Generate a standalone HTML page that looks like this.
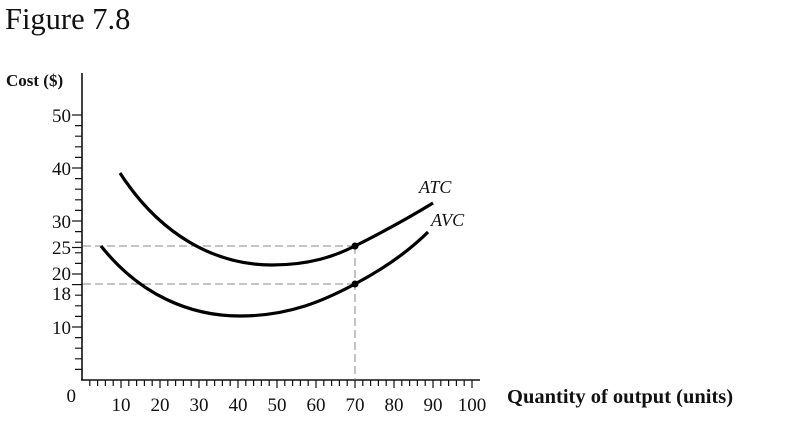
<!DOCTYPE html>
<html><head><meta charset="utf-8"><style>
html,body{margin:0;padding:0;background:#fff;}
</style></head><body>
<svg width="800" height="426" viewBox="0 0 800 426" xmlns="http://www.w3.org/2000/svg" font-family="Liberation Serif, serif">
<text x="5" y="29" font-size="30.5" fill="#111">Figure 7.8</text>
<text x="6" y="86" font-size="17" font-weight="bold" fill="#111">Cost ($)</text>
<g stroke="#111" stroke-width="1.6" fill="none">
<line x1="82" y1="73" x2="82" y2="380"/>
<line x1="81" y1="380" x2="480" y2="380"/>
</g>
<g font-size="19" fill="#111" text-anchor="end">
<text x="71" y="122">50</text><text x="71" y="175">40</text><text x="71" y="228">30</text>
<text x="71" y="254">25</text><text x="71" y="280">20</text><text x="71" y="300">18</text>
<text x="71" y="334">10</text><text x="76" y="402">0</text>
</g>
<g font-size="19" fill="#111" text-anchor="middle">
<text x="121" y="411">10</text><text x="160" y="411">20</text><text x="199" y="411">30</text>
<text x="238" y="411">40</text><text x="277" y="411">50</text><text x="316" y="411">60</text>
<text x="355" y="411">70</text><text x="394" y="411">80</text><text x="433" y="411">90</text>
<text x="472" y="411">100</text>
</g>
<text x="507" y="403" font-size="20.5" font-weight="bold" fill="#111">Quantity of output (units)</text>
<g stroke="#888" stroke-width="1" stroke-dasharray="8,4" fill="none">
<line x1="83" y1="246" x2="355" y2="246"/>
<line x1="83" y1="284" x2="355" y2="284"/>
<line x1="355" y1="246" x2="355" y2="380"/>
</g>
<g stroke="#000" stroke-width="3.2" fill="none">
<path d="M120,173 C160,235 215,265 272,265 C310,265 335,256 355,246 C385,231 410,217 433,203"/>
<path d="M101,246 C140,295 190,316 240,316 C290,316 325,300 355,284 C385,268 410,250 428,232"/>
</g>
<circle cx="355" cy="246" r="3.5" fill="#000"/>
<circle cx="355" cy="284" r="3.5" fill="#000"/>
<g font-size="18" font-style="italic" fill="#111">
<text x="419" y="193">ATC</text>
<text x="431" y="226">AVC</text>
</g>
<g stroke="#111" stroke-width="1.2">
<line x1="72" y1="115" x2="82" y2="115"/><line x1="72" y1="168" x2="82" y2="168"/>
<line x1="72" y1="221" x2="82" y2="221"/><line x1="72" y1="247.5" x2="82" y2="247.5"/>
<line x1="72" y1="274" x2="82" y2="274"/><line x1="72" y1="284.6" x2="82" y2="284.6"/>
<line x1="72" y1="327" x2="82" y2="327"/>
<path d="M75,125.6H82M75,136.2H82M75,146.8H82M75,157.4H82M75,178.6H82M75,189.2H82M75,199.8H82M75,210.4H82M75,231.6H82M75,242.2H82M75,252.8H82M75,263.4H82M75,295.2H82M75,305.8H82M75,316.4H82M75,337.6H82M75,348.2H82M75,358.8H82M75,369.4H82"/>
<path d="M89.8,380V386M97.6,380V386M105.4,380V386M113.2,380V386M121,380V388M128.8,380V386M136.6,380V386M144.4,380V386M152.2,380V386M160,380V388M167.8,380V386M175.6,380V386M183.4,380V386M191.2,380V386M199,380V388M206.8,380V386M214.6,380V386M222.4,380V386M230.2,380V386M238,380V388M245.8,380V386M253.6,380V386M261.4,380V386M269.2,380V386M277,380V388M284.8,380V386M292.6,380V386M300.4,380V386M308.2,380V386M316,380V388M323.8,380V386M331.6,380V386M339.4,380V386M347.2,380V386M355,380V388M362.8,380V386M370.6,380V386M378.4,380V386M386.2,380V386M394,380V388M401.8,380V386M409.6,380V386M417.4,380V386M425.2,380V386M433,380V388M440.8,380V386M448.6,380V386M456.4,380V386M464.2,380V386M472,380V388"/>
</g>
</svg>
</body></html>
